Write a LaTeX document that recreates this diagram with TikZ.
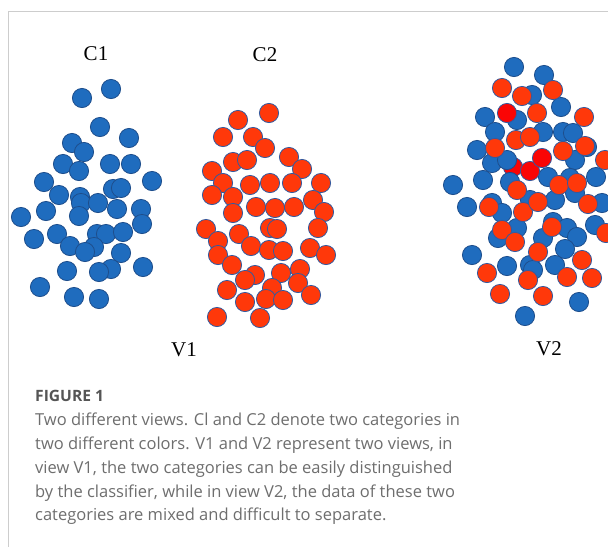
\documentclass[tikz,border=0pt]{standalone}
\usepackage{fontspec}
\setmainfont{Liberation Serif}
\newfontfamily\capfont{Open Sans}
\definecolor{ptblue}{RGB}{31,108,190}
\definecolor{ptblueline}{RGB}{30,78,140}
\definecolor{ptred}{RGB}{255,56,10}
\definecolor{ptdark}{RGB}{250,5,5}
\definecolor{ptredline}{RGB}{50,90,160}
\definecolor{capgray}{RGB}{110,110,110}
\definecolor{figgray}{RGB}{85,85,85}
\definecolor{framegray}{RGB}{205,205,205}
\tikzset{
  bdot/.style={fill=ptblue,draw=ptblueline,line width=0.8pt},
  rdot/.style={fill=ptred,draw=ptredline,line width=0.8pt},
  ddot/.style={fill=ptdark,draw=ptredline,line width=0.8pt},
  lbl/.style={font=\fontsize{21}{24}\selectfont,text=black,inner sep=0pt},
  capline/.style={font=\capfont\fontsize{16.5}{19}\selectfont,text=capgray,anchor=base west,inner sep=0pt},
}
\begin{document}
\begin{tikzpicture}[x=1pt,y=-1pt]
\useasboundingbox (0,0) rectangle (608,547);
\fill[white] (0,0) rectangle (608,547);
\draw[framegray,line width=1pt] (608,11) -- (8,11) -- (8,547);
\def\R{9.6}
% C1 cluster (blue)
\foreach \x/\y in {82/98,111/89,100/127,129/138,72/143,84/152,63/164,79/171,110/164,131/164,44/182,152/181,59/195,80/197,113/189,121/188,21/217,46/211,81/203,98/203,117/209,141/209,79/216,34/239,57/234,142/224,97/234,106/234,123/232,70/246,94/247,85/252,121/253,67/271,111/269,99/272,143/267,40/287,74/297,99/299}
  \draw[bdot] (\x,\y) circle[radius=\R];
% C2 cluster (red)
\foreach \x/\y in {269/113,238/120,223/137,253/137,265/148,233/162,247/160,289/157,302/169,212/171,223/183,250/185,270/183,292/183,321/183,212/195,233/197,256/207,275/208,294/207,313/200,324/212,233/213,206/229,270/228,277/229,318/228,239/234,218/241,251/246,269/250,283/251,310/248,326/255,218/255,232/265,255/275,245/280,281/273,300/269,298/283,272/288,227/290,245/302,266/299,283/300,311/295,217/317,260/318}
  \draw[rdot] (\x,\y) circle[radius=\R];
% V2 mixed
\foreach \x/\y in {514/67,544/75,532/95,561/107,485/117,517/120,495/132,543/132,563/132,573/133,477/150,492/163,575/160,587/147,596/177,483/180,453/185,548/177,570/178,575/193,555/200,467/207,492/203,502/213,530/200,602/203,595/225,553/222,567/228,577/237,517/228,498/238,543/238,565/249,472/255,507/266,530/265,555/265,533/270,579/302,525/316}
  \draw[bdot] (\x,\y) circle[radius=\R];
\foreach \x/\y in {507/113,513/167,530/171,542/158}
  \draw[ddot] (\x,\y) circle[radius=\R];
\draw[bdot] (507,160) circle[radius=\R];
\draw[bdot] (510,182) circle[radius=\R];
\foreach \x/\y in {502/88,522/96,553/90,537/113,584/117,516/140,530/137,495/148,563/151,585/146,605/160,517/190,559/185,577/183,489/207,523/212,538/202,588/204,606/233,552/227,502/230,515/242,538/252,582/260,487/273,528/280,567/277,592/278,500/294,543/296}
  \draw[rdot] (\x,\y) circle[radius=\R];
% labels
\node[lbl] (c1) at (96,54) {C1};
\node[lbl] (c2) at (265,55) {C2};
\node[lbl] (v1) at (184,350) {V1};
\node[lbl] (v2) at (549,349) {V2};
% caption
\node[capline,font=\capfont\bfseries\fontsize{15.6}{18}\selectfont,text=figgray] (fig) at (35,401) {FIGURE 1};
\node[capline] (l1) at (35,425) {Two different views. Cl and C2 denote two categories in};
\node[capline] (l2) at (35,449) {two different colors. V1 and V2 represent two views, in};
\node[capline] (l3) at (35,473) {view V1, the two categories can be easily distinguished};
\node[capline] (l4) at (35,497) {by the classifier, while in view V2, the data of these two};
\node[capline] (l5) at (35,520) {categories are mixed and difficult to separate.};
\end{tikzpicture}
\end{document}
